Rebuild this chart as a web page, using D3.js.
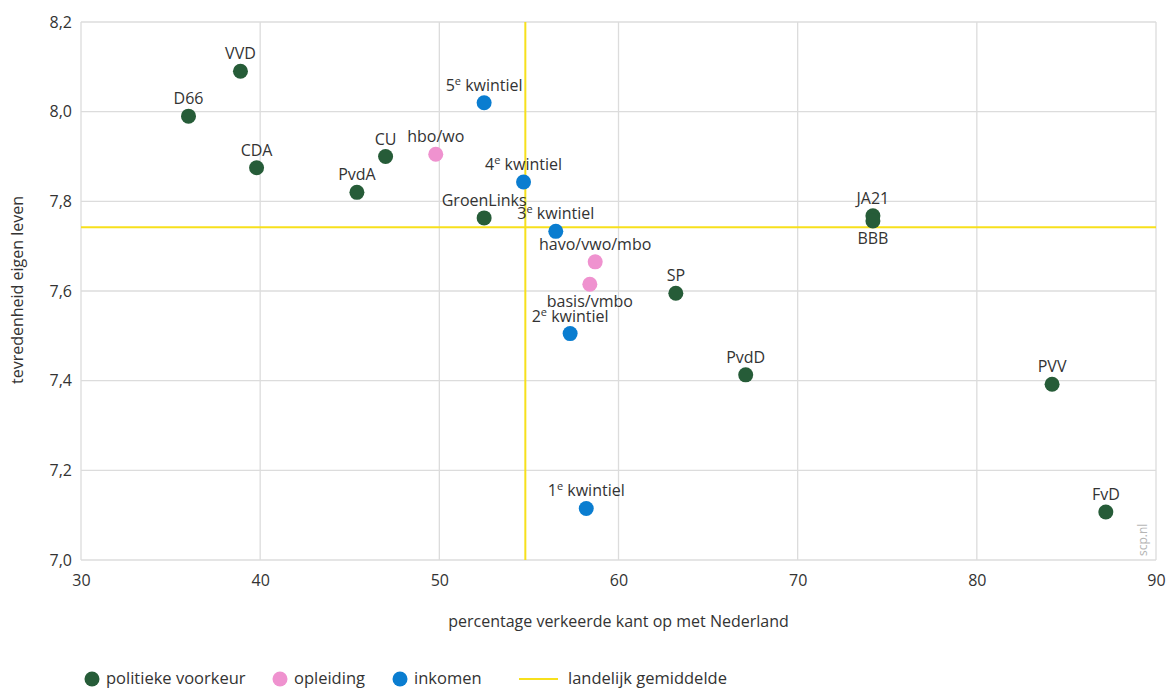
<!DOCTYPE html>
<html>
<head>
<meta charset="utf-8">
<script src="https://cdn.jsdelivr.net/npm/d3@7"></script>
<style>
  body { margin: 0; background: #fff; }
  svg { font-family: "Open Sans", "Noto Sans", sans-serif; }
</style>
</head>
<body>
<svg id="chart" width="1168" height="689"></svg>
<script>
// labels, groups and values
var names  = ["VVD", "D66", "CDA", "CU", "PvdA", "hbo/wo", "5|kwintiel", "4|kwintiel", "GroenLinks", "3|kwintiel",
              "havo/vwo/mbo", "basis/vmbo", "2|kwintiel", "SP", "PvdD", "1|kwintiel", "JA21", "BBB", "PVV", "FvD"];
var groups = ["pol", "pol", "pol", "pol", "pol", "opl", "ink", "ink", "pol", "ink",
              "opl", "opl", "ink", "pol", "pol", "ink", "pol", "pol", "pol", "pol"];
var xValues = [38.9, 36.0, 39.8, 47.0, 45.4, 49.8, 52.5, 54.7, 52.5, 56.5,
               58.7, 58.4, 57.3, 63.2, 67.1, 58.2, 74.2, 74.2, 84.2, 87.2];
var yValues = [8.09, 7.99, 7.875, 7.90, 7.82, 7.905, 8.02, 7.843, 7.763, 7.733,
               7.665, 7.615, 7.505, 7.595, 7.413, 7.115, 7.768, 7.756, 7.392, 7.107];
var labelBelow = ["basis/vmbo", "BBB"];
var avgX = 54.8;
var avgY = 7.742;
var xTicks = [30, 40, 50, 60, 70, 80, 90];
var yTicks = [7.0, 7.2, 7.4, 7.6, 7.8, 8.0, 8.2];
var legendItems = [
    {key: "pol", label: "politieke voorkeur"},
    {key: "opl", label: "opleiding"},
    {key: "ink", label: "inkomen"}
];

function drawChart() {
    var colors = {pol: "#265c38", opl: "#ef92cf", ink: "#0a7dd0"};
    var yellow = "#f7e01c";
    var gridColor = "#dcdcdc";
    var textColor = "#333";
    var fontSize = 16;

    var plotLeft = 81, plotRight = 1156, plotTop = 22, plotBottom = 560;
    var x = d3.scaleLinear().domain([30, 90]).range([plotLeft, plotRight]);
    var y = d3.scaleLinear().domain([7.0, 8.2]).range([plotBottom, plotTop]);

    var svg = d3.select("#chart");

    // grid
    svg.append("g").selectAll("line").data(xTicks).enter().append("line")
        .attr("x1", function(d){ return x(d); }).attr("x2", function(d){ return x(d); })
        .attr("y1", plotTop).attr("y2", plotBottom)
        .attr("stroke", gridColor).attr("stroke-width", 1.3);
    svg.append("g").selectAll("line").data(yTicks).enter().append("line")
        .attr("x1", plotLeft).attr("x2", plotRight)
        .attr("y1", function(d){ return y(d); }).attr("y2", function(d){ return y(d); })
        .attr("stroke", gridColor).attr("stroke-width", 1.3);

    // axes (labels only)
    var xAxis = svg.append("g").attr("transform", "translate(0," + plotBottom + ")")
        .call(d3.axisBottom(x).tickValues(xTicks).tickSize(0).tickPadding(15));
    var yAxis = svg.append("g").attr("transform", "translate(" + plotLeft + ",0)")
        .call(d3.axisLeft(y).tickValues(yTicks).tickSize(0).tickPadding(9)
            .tickFormat(function(d){ return d3.format(".1f")(d).replace(".", ","); }));
    [xAxis, yAxis].forEach(function(a){
        a.select(".domain").remove();
        a.selectAll("text").attr("font-size", fontSize).attr("fill", textColor)
            .style("font-family", "\"Open Sans\", sans-serif");
    });

    // average lines
    svg.append("line").attr("x1", x(avgX)).attr("x2", x(avgX)).attr("y1", plotTop).attr("y2", plotBottom)
        .attr("stroke", yellow).attr("stroke-width", 2);
    svg.append("line").attr("x1", plotLeft).attr("x2", plotRight).attr("y1", y(avgY)).attr("y2", y(avgY))
        .attr("stroke", yellow).attr("stroke-width", 2);

    // axis titles
    svg.append("text").attr("x", (plotLeft + plotRight) / 2).attr("y", 627)
        .attr("text-anchor", "middle").attr("font-size", fontSize).attr("fill", textColor)
        .text("percentage verkeerde kant op met Nederland");
    svg.append("text").attr("transform", "translate(23,290) rotate(-90)")
        .attr("text-anchor", "middle").attr("font-size", fontSize).attr("fill", textColor)
        .text("tevredenheid eigen leven");

    // watermark
    svg.append("text").attr("transform", "translate(1147,556) rotate(-90)")
        .attr("font-size", 12).attr("fill", "#b5b5b5").text("scp.nl");

    var points = names.map(function(n, i){
        return {name: n, group: groups[i], x: xValues[i], y: yValues[i]};
    });

    svg.append("g").selectAll("circle").data(points).enter().append("circle")
        .attr("cx", function(d){ return x(d.x); })
        .attr("cy", function(d){ return y(d.y); })
        .attr("r", 7.5)
        .attr("fill", function(d){ return colors[d.group]; });

    var labels = svg.append("g").selectAll("text").data(points).enter().append("text")
        .attr("x", function(d){ return x(d.x); })
        .attr("y", function(d){
            return labelBelow.indexOf(d.name) != -1 ? y(d.y) + 23 : y(d.y) - 12;
        })
        .attr("text-anchor", "middle").attr("font-size", fontSize).attr("fill", textColor);

    labels.each(function(d){
        var t = d3.select(this);
        var parts = d.name.split("|");
        if (parts.length == 2) {
            t.append("tspan").text(parts[0]);
            t.append("tspan").attr("font-size", 11).attr("dy", -6).text("e");
            t.append("tspan").attr("dy", 6).text(" " + parts[1]);
        } else {
            t.text(d.name);
        }
    });

    // legend
    var ly = 679;
    var legendX = [92, 280, 400];
    legendItems.forEach(function(item, i){
        svg.append("circle").attr("cx", legendX[i]).attr("cy", ly).attr("r", 7.5)
            .attr("fill", colors[item.key]);
        svg.append("text").attr("x", legendX[i] + 14).attr("y", ly + 5)
            .attr("font-size", 16.5).attr("fill", textColor).text(item.label);
    });
    svg.append("line").attr("x1", 519).attr("x2", 558).attr("y1", ly).attr("y2", ly)
        .attr("stroke", yellow).attr("stroke-width", 2);
    svg.append("text").attr("x", 568).attr("y", ly + 5)
        .attr("font-size", 16.5).attr("fill", textColor).text("landelijk gemiddelde");
}
drawChart();
</script>
</body>
</html>
